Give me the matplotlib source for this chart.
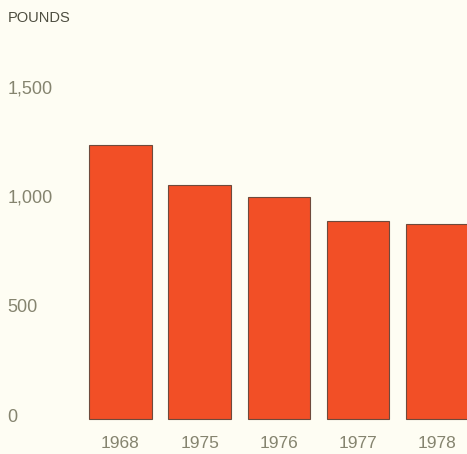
import matplotlib.pyplot as plt

# data
years = ["1968", "1975", "1976", "1977", "1978"]
pounds = [1255, 1068, 1017, 907, 894]
y_ticks = [0, 500, 1000, 1500]
y_tick_labels = ["0", "500", "1,000", "1,500"]

bg = "#fefdf3"
bar_color = "#f24f26"
text_grey = "#85846f"

plt.rcParams["font.family"] = ["Liberation Sans", "DejaVu Sans"]

fig = plt.figure(figsize=(4.67, 4.54), dpi=100, facecolor=bg)
# axes spans the whole figure; limits chosen so bars land where they sit in the original
ax = fig.add_axes([0, 0, 1, 1])
ax.set_facecolor(bg)

x = range(len(years))
ax.bar(x, pounds, width=0.79, color=bar_color, edgecolor="#6e4a3c", linewidth=0.8)

ax.set_xlim(-1.521, 4.375)
ax.set_ylim(-160, 1916)
ax.axis("off")

# y tick labels (left aligned near the left edge)
for v, lab in zip(y_ticks, y_tick_labels):
    ax.text(-1.43, v + 9, lab, ha="left", va="center", fontsize=13, color=text_grey)

# x labels under each bar
for i, yr in enumerate(years):
    ax.text(i, -110, yr, ha="center", va="center", fontsize=12.5, color=text_grey)

ax.text(-1.42, 1835, "POUNDS", ha="left", va="center", fontsize=10.5, color="#4e4e40")

fig.savefig("out.png", dpi=100, facecolor=bg)
